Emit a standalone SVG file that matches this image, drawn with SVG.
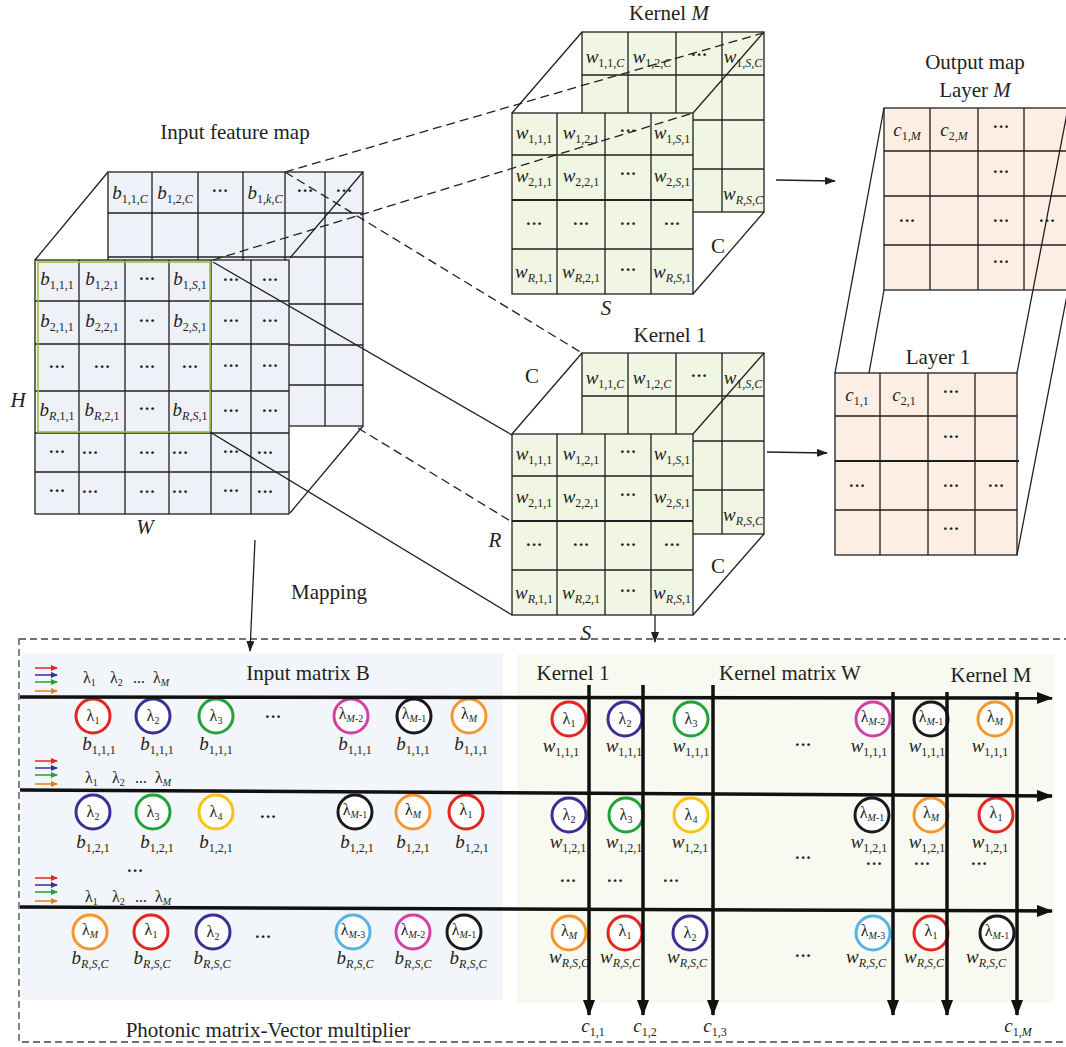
<svg xmlns="http://www.w3.org/2000/svg" width="1066" height="1047" viewBox="0 0 1066 1047">
<style>
.sf{font-family:"Liberation Serif","Times New Roman",serif;fill:#231f20}
.tl{font-size:21px}
.tm{text-anchor:middle}
.cv{font-size:19px;font-style:italic;text-anchor:middle}
.sb{font-size:12px;font-style:normal}
.dt{font-size:17px;text-anchor:middle;font-weight:bold}
.g{stroke:#231f20;stroke-width:1.3;fill:none}
.fb{fill:#eef2f8}
.fk{fill:#f1f5e3}
.fo{fill:#fdeee3}
.lam{font-size:16px;text-anchor:middle}
.ls{font-size:10px;font-style:normal}
.lb{font-size:16px}
.wg{stroke:#111;stroke-width:3.5;fill:none}
.cr{stroke-width:3;fill:#fff}
.red{stroke:#e3261f}.blu{stroke:#3b2f96}.grn{stroke:#20a339}.mag{stroke:#d43fa5}.blk{stroke:#1a1a1a}.org{stroke:#f7962f}.yel{stroke:#f9c20f}.lbl{stroke:#56b3e2}
.th{stroke:#231f20;stroke-width:1.3;fill:none}
.da{stroke-dasharray:9 5}
.it,.sb.it,.ls.it{font-style:italic}
</style>
<defs>
<marker id="ah" markerUnits="userSpaceOnUse" markerWidth="16" markerHeight="12" refX="15" refY="6" orient="auto"><path d="M0,0 L16,6 L0,12 Z" fill="#111"/></marker>
<marker id="as" markerUnits="userSpaceOnUse" markerWidth="11" markerHeight="8" refX="10" refY="4" orient="auto"><path d="M0,0 L11,4 L0,8 Z" fill="#231f20"/></marker>
<marker id="mr" markerUnits="userSpaceOnUse" markerWidth="7" markerHeight="6" refX="6" refY="3" orient="auto"><path d="M0,0 L7,3 L0,6 Z" fill="#e3261f"/></marker>
<marker id="mb" markerUnits="userSpaceOnUse" markerWidth="7" markerHeight="6" refX="6" refY="3" orient="auto"><path d="M0,0 L7,3 L0,6 Z" fill="#3b2f96"/></marker>
<marker id="mg" markerUnits="userSpaceOnUse" markerWidth="7" markerHeight="6" refX="6" refY="3" orient="auto"><path d="M0,0 L7,3 L0,6 Z" fill="#20a339"/></marker>
<marker id="mo" markerUnits="userSpaceOnUse" markerWidth="7" markerHeight="6" refX="6" refY="3" orient="auto"><path d="M0,0 L7,3 L0,6 Z" fill="#f07a1a"/></marker>
</defs>
<rect width="1066" height="1047" fill="#fff"/>

<g id="input-feature-map">
<text class="sf tl tm" x="235" y="139">Input feature map</text>
<rect class="g fb" x="108" y="172" width="255" height="254"/>
<path class="g" d="M152 172V426M198 172V426M243 172V426M285 172V426M325 172V426M108 213H363M108 257H363M108 304H363M108 345H363M108 385H363"/>
<text class="sf cv" x="130" y="199">b<tspan class="sb" dy="4">1,1,<tspan class="it">C</tspan></tspan></text>
<text class="sf cv" x="175" y="199">b<tspan class="sb" dy="4">1,2,<tspan class="it">C</tspan></tspan></text>
<text class="sf dt" x="220" y="196">···</text>
<text class="sf cv" x="265" y="199">b<tspan class="sb" dy="4">1,<tspan class="it">k</tspan>,<tspan class="it">C</tspan></tspan></text>
<text class="sf dt" x="305" y="196">···</text>
<text class="sf dt" x="344" y="196">···</text>
<rect class="g fb" x="35" y="260" width="254" height="254"/>
<path class="g" d="M79 260V514M125 260V514M169 260V514M211 260V514M251 260V514M35 301H289M35 344H289M35 391H289M35 433H289M35 472H289"/>
<rect x="38" y="262" width="172" height="170" fill="none" stroke="#9fbf3b" stroke-width="1.6"/>
<text class="sf cv" x="57" y="285">b<tspan class="sb" dy="4">1,1,1</tspan></text>
<text class="sf cv" x="102" y="285">b<tspan class="sb" dy="4">1,2,1</tspan></text>
<text class="sf dt" x="147" y="284">···</text>
<text class="sf cv" x="190" y="285">b<tspan class="sb" dy="4">1,<tspan class="it">S</tspan>,1</tspan></text>
<text class="sf dt" x="231" y="285">···</text>
<text class="sf dt" x="270" y="285">···</text>
<text class="sf cv" x="57" y="327">b<tspan class="sb" dy="4">2,1,1</tspan></text>
<text class="sf cv" x="102" y="327">b<tspan class="sb" dy="4">2,2,1</tspan></text>
<text class="sf dt" x="147" y="326">···</text>
<text class="sf cv" x="190" y="327">b<tspan class="sb" dy="4">2,<tspan class="it">S</tspan>,1</tspan></text>
<text class="sf dt" x="231" y="326">···</text>
<text class="sf dt" x="270" y="326">···</text>
<text class="sf dt" x="57" y="372">···</text>
<text class="sf dt" x="102" y="372">···</text>
<text class="sf dt" x="147" y="372">···</text>
<text class="sf dt" x="190" y="372">···</text>
<text class="sf dt" x="231" y="371">···</text>
<text class="sf dt" x="270" y="371">···</text>
<text class="sf cv" x="57" y="416">b<tspan class="sb" dy="4"><tspan class="it">R</tspan>,1,1</tspan></text>
<text class="sf cv" x="102" y="416">b<tspan class="sb" dy="4"><tspan class="it">R</tspan>,2,1</tspan></text>
<text class="sf dt" x="147" y="414">···</text>
<text class="sf cv" x="190" y="416">b<tspan class="sb" dy="4"><tspan class="it">R</tspan>,<tspan class="it">S</tspan>,1</tspan></text>
<text class="sf dt" x="231" y="416">···</text>
<text class="sf dt" x="270" y="416">···</text>
<text class="sf dt" x="57" y="457">···</text>
<text class="sf dt" x="90" y="458">···</text>
<text class="sf dt" x="147" y="458">···</text>
<text class="sf dt" x="180" y="458">···</text>
<text class="sf dt" x="231" y="457">···</text>
<text class="sf dt" x="265" y="458">···</text>
<text class="sf dt" x="57" y="496">···</text>
<text class="sf dt" x="90" y="497">···</text>
<text class="sf dt" x="147" y="497">···</text>
<text class="sf dt" x="180" y="497">···</text>
<text class="sf dt" x="231" y="496">···</text>
<text class="sf dt" x="265" y="497">···</text>
<path class="g" d="M35 260L108 172M290 258L363 172M290 513L363 426"/>
<text class="sf tl it tm" x="18" y="407">H</text>
<text class="sf tl it tm" x="145" y="534">W</text>
</g>

<g id="kernel-M">
<text class="sf tl tm" x="669" y="20">Kernel <tspan class="it">M</tspan></text>
<rect class="g fk" x="582" y="32" width="182" height="180"/>
<path class="g" d="M628 32V212M676 32V212M722 32V212M582 75H764M582 120H764M582 169H764"/>
<text class="sf cv" x="605" y="63">w<tspan class="sb" dy="4">1,1,<tspan class="it">C</tspan></tspan></text>
<text class="sf cv" x="652" y="63">w<tspan class="sb" dy="4">1,2,<tspan class="it">C</tspan></tspan></text>
<text class="sf dt" x="699" y="60">···</text>
<text class="sf cv" x="743" y="63">w<tspan class="sb" dy="4">1,<tspan class="it">S</tspan>,<tspan class="it">C</tspan></tspan></text>
<text class="sf cv" x="743" y="200">w<tspan class="sb" dy="4"><tspan class="it">R</tspan>,<tspan class="it">S</tspan>,<tspan class="it">C</tspan></tspan></text>
<rect class="g fk" x="512" y="113" width="181" height="181"/>
<path class="g" d="M557 113V294M605 113V294M651 113V294M512 155H693M512 249H693"/>
<path d="M512 200H693" stroke="#231f20" stroke-width="2"/>
<text class="sf cv" x="534" y="139">w<tspan class="sb" dy="4">1,1,1</tspan></text>
<text class="sf cv" x="581" y="139">w<tspan class="sb" dy="4">1,2,1</tspan></text>
<text class="sf dt" x="628" y="136">···</text>
<text class="sf cv" x="672" y="139">w<tspan class="sb" dy="4">1,<tspan class="it">S</tspan>,1</tspan></text>
<text class="sf cv" x="534" y="182">w<tspan class="sb" dy="4">2,1,1</tspan></text>
<text class="sf cv" x="581" y="182">w<tspan class="sb" dy="4">2,2,1</tspan></text>
<text class="sf dt" x="628" y="179">···</text>
<text class="sf cv" x="672" y="182">w<tspan class="sb" dy="4">2,<tspan class="it">S</tspan>,1</tspan></text>
<text class="sf dt" x="534" y="229">···</text>
<text class="sf dt" x="581" y="229">···</text>
<text class="sf dt" x="628" y="229">···</text>
<text class="sf dt" x="672" y="229">···</text>
<text class="sf cv" x="534" y="278">w<tspan class="sb" dy="4"><tspan class="it">R</tspan>,1,1</tspan></text>
<text class="sf cv" x="581" y="278">w<tspan class="sb" dy="4"><tspan class="it">R</tspan>,2,1</tspan></text>
<text class="sf dt" x="628" y="275">···</text>
<text class="sf cv" x="672" y="278">w<tspan class="sb" dy="4"><tspan class="it">R</tspan>,<tspan class="it">S</tspan>,1</tspan></text>
<path class="g" d="M512 113L582 32M693 113L764 32M693 294L764 212"/>
<text class="sf tl tm" x="718" y="253">C</text>
<text class="sf tl it tm" x="606" y="315">S</text>
</g>

<g id="kernel-1">
<text class="sf tl tm" x="670" y="342">Kernel 1</text>
<rect class="g fk" x="582" y="353" width="182" height="181"/>
<path class="g" d="M628 353V534M676 353V534M722 353V534M582 396H764M582 441H764M582 490H764"/>
<text class="sf cv" x="605" y="384">w<tspan class="sb" dy="4">1,1,<tspan class="it">C</tspan></tspan></text>
<text class="sf cv" x="652" y="384">w<tspan class="sb" dy="4">1,2,<tspan class="it">C</tspan></tspan></text>
<text class="sf dt" x="699" y="381">···</text>
<text class="sf cv" x="743" y="384">w<tspan class="sb" dy="4">1,<tspan class="it">S</tspan>,<tspan class="it">C</tspan></tspan></text>
<text class="sf cv" x="743" y="521">w<tspan class="sb" dy="4"><tspan class="it">R</tspan>,<tspan class="it">S</tspan>,<tspan class="it">C</tspan></tspan></text>
<rect class="g fk" x="512" y="434" width="181" height="181"/>
<path class="g" d="M557 434V615M605 434V615M651 434V615M512 476H693M512 570H693"/>
<path d="M512 521H693" stroke="#231f20" stroke-width="2"/>
<text class="sf cv" x="534" y="460">w<tspan class="sb" dy="4">1,1,1</tspan></text>
<text class="sf cv" x="581" y="460">w<tspan class="sb" dy="4">1,2,1</tspan></text>
<text class="sf dt" x="628" y="457">···</text>
<text class="sf cv" x="672" y="460">w<tspan class="sb" dy="4">1,<tspan class="it">S</tspan>,1</tspan></text>
<text class="sf cv" x="534" y="503">w<tspan class="sb" dy="4">2,1,1</tspan></text>
<text class="sf cv" x="581" y="503">w<tspan class="sb" dy="4">2,2,1</tspan></text>
<text class="sf dt" x="628" y="500">···</text>
<text class="sf cv" x="672" y="503">w<tspan class="sb" dy="4">2,<tspan class="it">S</tspan>,1</tspan></text>
<text class="sf dt" x="534" y="550">···</text>
<text class="sf dt" x="581" y="550">···</text>
<text class="sf dt" x="628" y="550">···</text>
<text class="sf dt" x="672" y="550">···</text>
<text class="sf cv" x="534" y="599">w<tspan class="sb" dy="4"><tspan class="it">R</tspan>,1,1</tspan></text>
<text class="sf cv" x="581" y="599">w<tspan class="sb" dy="4"><tspan class="it">R</tspan>,2,1</tspan></text>
<text class="sf dt" x="628" y="596">···</text>
<text class="sf cv" x="672" y="599">w<tspan class="sb" dy="4"><tspan class="it">R</tspan>,<tspan class="it">S</tspan>,1</tspan></text>
<path class="g" d="M512 434L582 353M693 434L764 353M693 615L764 534"/>
<text class="sf tl tm" x="532" y="383">C</text>
<text class="sf tl it tm" x="495" y="547">R</text>
<text class="sf tl tm" x="718" y="573">C</text>
<text class="sf tl it tm" x="586" y="640">S</text>
</g>

<g id="output-map">
<text class="sf tl tm" x="975" y="69">Output map</text>
<text class="sf tl tm" x="975" y="97">Layer <tspan class="it">M</tspan></text>
<rect class="g fo" x="884" y="108" width="186" height="182"/>
<path class="g" d="M930 108V290M978 108V290M1024 108V290M884 151H1070M884 196H1070M884 245H1070"/>
<text class="sf cv" x="907" y="136">c<tspan class="sb" dy="4">1,<tspan class="it">M</tspan></tspan></text>
<text class="sf cv" x="954" y="136">c<tspan class="sb" dy="4">2,<tspan class="it">M</tspan></tspan></text>
<text class="sf dt" x="1001" y="132">···</text>
<text class="sf dt" x="1001" y="177">···</text>
<text class="sf dt" x="907" y="226">···</text>
<text class="sf dt" x="1001" y="226">···</text>
<text class="sf dt" x="1047" y="226">···</text>
<text class="sf dt" x="1001" y="267">···</text>
<text class="sf tl tm" x="938" y="364">Layer 1</text>
<rect class="g fo" x="835" y="373" width="182" height="182"/>
<path class="g" d="M880 373V555M928 373V555M975 373V555M835 416H1017M835 510H1017"/>
<path d="M835 461H1019" stroke="#231f20" stroke-width="1.8"/>
<text class="sf cv" x="857" y="401">c<tspan class="sb" dy="4">1,1</tspan></text>
<text class="sf cv" x="904" y="401">c<tspan class="sb" dy="4">2,1</tspan></text>
<text class="sf dt" x="951" y="397">···</text>
<text class="sf dt" x="951" y="442">···</text>
<text class="sf dt" x="857" y="491">···</text>
<text class="sf dt" x="951" y="491">···</text>
<text class="sf dt" x="996" y="491">···</text>
<text class="sf dt" x="951" y="534">···</text>
<path class="g" d="M884 108L835 373M884 290L869 373M1068 108L1017 373M1068 290L1017 555"/>
</g>

<g id="photonic-multiplier">
<rect x="19" y="639" width="1052" height="403" fill="none" stroke="#444" stroke-width="1.3" stroke-dasharray="7 4"/>
<rect x="21" y="653" width="482" height="347" fill="#f2f5f9"/>
<rect x="517" y="654" width="537" height="349" fill="#f8f9f1"/>
<text class="sf tl tm" x="308" y="680">Input matrix B</text>
<text class="sf tl tm" x="573" y="680">Kernel 1</text>
<text class="sf tl tm" x="790" y="680">Kernel matrix W</text>
<text class="sf tl tm" x="991" y="682">Kernel M</text>
<text class="sf tl tm" x="268" y="1037">Photonic matrix-Vector multiplier</text>
</g>

<g id="input-matrix-B">
<g stroke-width="1.5">
<line x1="35" y1="668" x2="57" y2="668" stroke="#e3261f" marker-end="url(#mr)"/>
<line x1="35" y1="675" x2="57" y2="675" stroke="#3b2f96" marker-end="url(#mb)"/>
<line x1="35" y1="682" x2="57" y2="682" stroke="#20a339" marker-end="url(#mg)"/>
<line x1="35" y1="691" x2="57" y2="691" stroke="#f07a1a" marker-end="url(#mo)"/>
<line x1="35" y1="761" x2="57" y2="761" stroke="#e3261f" marker-end="url(#mr)"/>
<line x1="35" y1="768" x2="57" y2="768" stroke="#3b2f96" marker-end="url(#mb)"/>
<line x1="35" y1="775" x2="57" y2="775" stroke="#20a339" marker-end="url(#mg)"/>
<line x1="35" y1="784" x2="57" y2="784" stroke="#f07a1a" marker-end="url(#mo)"/>
<line x1="35" y1="878" x2="57" y2="878" stroke="#e3261f" marker-end="url(#mr)"/>
<line x1="35" y1="885" x2="57" y2="885" stroke="#3b2f96" marker-end="url(#mb)"/>
<line x1="35" y1="892" x2="57" y2="892" stroke="#20a339" marker-end="url(#mg)"/>
<line x1="35" y1="901" x2="57" y2="901" stroke="#f07a1a" marker-end="url(#mo)"/>
</g>
<text class="sf lb" x="83" y="683">λ<tspan class="ls" dy="3">1</tspan><tspan dy="-3" x="110">λ</tspan><tspan class="ls" dy="3">2</tspan><tspan dy="-3" x="133">...</tspan><tspan x="153">λ</tspan><tspan class="ls it" dy="3">M</tspan></text>
<text class="sf lb" x="85" y="783">λ<tspan class="ls" dy="3">1</tspan><tspan dy="-3" x="112">λ</tspan><tspan class="ls" dy="3">2</tspan><tspan dy="-3" x="135">...</tspan><tspan x="155">λ</tspan><tspan class="ls it" dy="3">M</tspan></text>
<text class="sf lb" x="85" y="902">λ<tspan class="ls" dy="3">1</tspan><tspan dy="-3" x="112">λ</tspan><tspan class="ls" dy="3">2</tspan><tspan dy="-3" x="135">...</tspan><tspan x="155">λ</tspan><tspan class="ls it" dy="3">M</tspan></text>
<text class="sf dt" x="135" y="876">···</text>

<circle class="cr red" cx="93" cy="716" r="17"/><text class="sf lam" x="93" y="721">λ<tspan class="ls" dy="3">1</tspan></text>
<circle class="cr blu" cx="153" cy="716" r="17"/><text class="sf lam" x="153" y="721">λ<tspan class="ls" dy="3">2</tspan></text>
<circle class="cr grn" cx="216" cy="716" r="17"/><text class="sf lam" x="216" y="721">λ<tspan class="ls" dy="3">3</tspan></text>
<text class="sf dt" x="273" y="722">···</text>
<circle class="cr mag" cx="351" cy="716" r="17"/><text class="sf lam" x="351" y="719">λ<tspan class="ls" dy="3"><tspan class="it">M</tspan>-2</tspan></text>
<circle class="cr blk" cx="414" cy="716" r="17"/><text class="sf lam" x="414" y="719">λ<tspan class="ls" dy="3"><tspan class="it">M</tspan>-1</tspan></text>
<circle class="cr org" cx="469" cy="716" r="17"/><text class="sf lam" x="469" y="719">λ<tspan class="ls it" dy="3">M</tspan></text>
<text class="sf cv" x="99" y="750">b<tspan class="sb" dy="4">1,1,1</tspan></text>
<text class="sf cv" x="157" y="750">b<tspan class="sb" dy="4">1,1,1</tspan></text>
<text class="sf cv" x="216" y="750">b<tspan class="sb" dy="4">1,1,1</tspan></text>
<text class="sf cv" x="355" y="750">b<tspan class="sb" dy="4">1,1,1</tspan></text>
<text class="sf cv" x="413" y="750">b<tspan class="sb" dy="4">1,1,1</tspan></text>
<text class="sf cv" x="471" y="750">b<tspan class="sb" dy="4">1,1,1</tspan></text>

<circle class="cr blu" cx="93" cy="812" r="17"/><text class="sf lam" x="93" y="817">λ<tspan class="ls" dy="3">2</tspan></text>
<circle class="cr grn" cx="153" cy="812" r="17"/><text class="sf lam" x="153" y="817">λ<tspan class="ls" dy="3">3</tspan></text>
<circle class="cr yel" cx="216" cy="812" r="17"/><text class="sf lam" x="216" y="817">λ<tspan class="ls" dy="3">4</tspan></text>
<text class="sf dt" x="268" y="822">···</text>
<circle class="cr blk" cx="355" cy="812" r="17"/><text class="sf lam" x="355" y="815">λ<tspan class="ls" dy="3"><tspan class="it">M</tspan>-1</tspan></text>
<circle class="cr org" cx="413" cy="812" r="17"/><text class="sf lam" x="413" y="815">λ<tspan class="ls it" dy="3">M</tspan></text>
<circle class="cr red" cx="466" cy="812" r="17"/><text class="sf lam" x="466" y="815">λ<tspan class="ls" dy="3">1</tspan></text>
<text class="sf cv" x="93" y="848">b<tspan class="sb" dy="4">1,2,1</tspan></text>
<text class="sf cv" x="157" y="848">b<tspan class="sb" dy="4">1,2,1</tspan></text>
<text class="sf cv" x="216" y="848">b<tspan class="sb" dy="4">1,2,1</tspan></text>
<text class="sf cv" x="357" y="848">b<tspan class="sb" dy="4">1,2,1</tspan></text>
<text class="sf cv" x="413" y="848">b<tspan class="sb" dy="4">1,2,1</tspan></text>
<text class="sf cv" x="472" y="848">b<tspan class="sb" dy="4">1,2,1</tspan></text>

<circle class="cr org" cx="90" cy="932" r="17"/><text class="sf lam" x="90" y="935">λ<tspan class="ls it" dy="3">M</tspan></text>
<circle class="cr red" cx="151" cy="932" r="17"/><text class="sf lam" x="151" y="935">λ<tspan class="ls" dy="3">1</tspan></text>
<circle class="cr blu" cx="213" cy="932" r="17"/><text class="sf lam" x="213" y="937">λ<tspan class="ls" dy="3">2</tspan></text>
<text class="sf dt" x="263" y="942">···</text>
<circle class="cr lbl" cx="353" cy="932" r="17"/><text class="sf lam" x="353" y="935">λ<tspan class="ls" dy="3"><tspan class="it">M</tspan>-3</tspan></text>
<circle class="cr mag" cx="413" cy="932" r="17"/><text class="sf lam" x="413" y="935">λ<tspan class="ls" dy="3"><tspan class="it">M</tspan>-2</tspan></text>
<circle class="cr blk" cx="464" cy="932" r="17"/><text class="sf lam" x="464" y="935">λ<tspan class="ls" dy="3"><tspan class="it">M</tspan>-1</tspan></text>
<text class="sf cv" x="90" y="964">b<tspan class="sb it" dy="4">R,S,C</tspan></text>
<text class="sf cv" x="152" y="964">b<tspan class="sb it" dy="4">R,S,C</tspan></text>
<text class="sf cv" x="212" y="964">b<tspan class="sb it" dy="4">R,S,C</tspan></text>
<text class="sf cv" x="355" y="964">b<tspan class="sb it" dy="4">R,S,C</tspan></text>
<text class="sf cv" x="413" y="964">b<tspan class="sb it" dy="4">R,S,C</tspan></text>
<text class="sf cv" x="468" y="964">b<tspan class="sb it" dy="4">R,S,C</tspan></text>
</g>

<g id="kernel-matrix-W">
<circle class="cr red" cx="569" cy="719" r="17"/><text class="sf lam" x="569" y="724">λ<tspan class="ls" dy="3">1</tspan></text>
<circle class="cr blu" cx="625" cy="719" r="17"/><text class="sf lam" x="625" y="724">λ<tspan class="ls" dy="3">2</tspan></text>
<circle class="cr grn" cx="691" cy="719" r="17"/><text class="sf lam" x="691" y="724">λ<tspan class="ls" dy="3">3</tspan></text>
<circle class="cr mag" cx="873" cy="719" r="17"/><text class="sf lam" x="873" y="722">λ<tspan class="ls" dy="3"><tspan class="it">M</tspan>-2</tspan></text>
<circle class="cr blk" cx="931" cy="719" r="17"/><text class="sf lam" x="931" y="722">λ<tspan class="ls" dy="3"><tspan class="it">M</tspan>-1</tspan></text>
<circle class="cr org" cx="995" cy="719" r="17"/><text class="sf lam" x="995" y="722">λ<tspan class="ls it" dy="3">M</tspan></text>
<text class="sf cv" x="561" y="752">w<tspan class="sb" dy="4">1,1,1</tspan></text>
<text class="sf cv" x="624" y="752">w<tspan class="sb" dy="4">1,1,1</tspan></text>
<text class="sf cv" x="691" y="752">w<tspan class="sb" dy="4">1,1,1</tspan></text>
<text class="sf dt" x="803" y="750">···</text>
<text class="sf cv" x="869" y="752">w<tspan class="sb" dy="4">1,1,1</tspan></text>
<text class="sf cv" x="927" y="752">w<tspan class="sb" dy="4">1,1,1</tspan></text>
<text class="sf cv" x="990" y="752">w<tspan class="sb" dy="4">1,1,1</tspan></text>

<circle class="cr blu" cx="569" cy="815" r="17"/><text class="sf lam" x="569" y="820">λ<tspan class="ls" dy="3">2</tspan></text>
<circle class="cr grn" cx="626" cy="815" r="17"/><text class="sf lam" x="626" y="820">λ<tspan class="ls" dy="3">3</tspan></text>
<circle class="cr yel" cx="691" cy="815" r="17"/><text class="sf lam" x="691" y="820">λ<tspan class="ls" dy="3">4</tspan></text>
<circle class="cr blk" cx="872" cy="815" r="17"/><text class="sf lam" x="872" y="818">λ<tspan class="ls" dy="3"><tspan class="it">M</tspan>-1</tspan></text>
<circle class="cr org" cx="931" cy="815" r="17"/><text class="sf lam" x="931" y="818">λ<tspan class="ls it" dy="3">M</tspan></text>
<circle class="cr red" cx="996" cy="815" r="17"/><text class="sf lam" x="996" y="818">λ<tspan class="ls" dy="3">1</tspan></text>
<text class="sf cv" x="568" y="848">w<tspan class="sb" dy="4">1,2,1</tspan></text>
<text class="sf cv" x="624" y="848">w<tspan class="sb" dy="4">1,2,1</tspan></text>
<text class="sf cv" x="690" y="848">w<tspan class="sb" dy="4">1,2,1</tspan></text>
<text class="sf dt" x="803" y="863">···</text>
<text class="sf cv" x="869" y="848">w<tspan class="sb" dy="4">1,2,1</tspan></text>
<text class="sf cv" x="927" y="848">w<tspan class="sb" dy="4">1,2,1</tspan></text>
<text class="sf cv" x="990" y="848">w<tspan class="sb" dy="4">1,2,1</tspan></text>
<text class="sf dt" x="874" y="869">···</text>
<text class="sf dt" x="922" y="869">···</text>
<text class="sf dt" x="979" y="869">···</text>
<text class="sf dt" x="568" y="886">···</text>
<text class="sf dt" x="615" y="886">···</text>
<text class="sf dt" x="671" y="886">···</text>

<circle class="cr org" cx="569" cy="933" r="17"/><text class="sf lam" x="569" y="936">λ<tspan class="ls it" dy="3">M</tspan></text>
<circle class="cr red" cx="625" cy="933" r="17"/><text class="sf lam" x="625" y="936">λ<tspan class="ls" dy="3">1</tspan></text>
<circle class="cr blu" cx="690" cy="933" r="17"/><text class="sf lam" x="690" y="938">λ<tspan class="ls" dy="3">2</tspan></text>
<circle class="cr lbl" cx="873" cy="933" r="17"/><text class="sf lam" x="873" y="936">λ<tspan class="ls" dy="3"><tspan class="it">M</tspan>-3</tspan></text>
<circle class="cr red" cx="931" cy="933" r="17"/><text class="sf lam" x="931" y="936">λ<tspan class="ls" dy="3">1</tspan></text>
<circle class="cr blk" cx="997" cy="933" r="17"/><text class="sf lam" x="997" y="936">λ<tspan class="ls" dy="3"><tspan class="it">M</tspan>-1</tspan></text>
<text class="sf cv" x="569" y="963">w<tspan class="sb it" dy="4">R,S,C</tspan></text>
<text class="sf cv" x="620" y="963">w<tspan class="sb it" dy="4">R,S,C</tspan></text>
<text class="sf cv" x="687" y="963">w<tspan class="sb it" dy="4">R,S,C</tspan></text>
<text class="sf dt" x="803" y="961">···</text>
<text class="sf cv" x="866" y="963">w<tspan class="sb it" dy="4">R,S,C</tspan></text>
<text class="sf cv" x="924" y="963">w<tspan class="sb it" dy="4">R,S,C</tspan></text>
<text class="sf cv" x="986" y="963">w<tspan class="sb it" dy="4">R,S,C</tspan></text>

<text class="sf cv" x="593" y="1032">c<tspan class="sb" dy="4">1,1</tspan></text>
<text class="sf cv" x="645" y="1032">c<tspan class="sb" dy="4">1,2</tspan></text>
<text class="sf cv" x="715" y="1032">c<tspan class="sb" dy="4">1,3</tspan></text>
<text class="sf cv" x="1018" y="1032">c<tspan class="sb" dy="4">1,<tspan class="it">M</tspan></tspan></text>
</g>

<g id="connectors">
<path class="th da" d="M285 172L763 33M213 260L693 113M285 172L582 353M358 428L512 522"/>
<path class="th" d="M213 262L512 435M210 432L512 615"/>
<line class="th" x1="776" y1="180" x2="835" y2="181" marker-end="url(#as)"/>
<line class="th" x1="767" y1="452" x2="827" y2="453" marker-end="url(#as)"/>
<line class="th" x1="255" y1="540" x2="250" y2="651" marker-end="url(#as)"/>
<line class="th" x1="655" y1="615" x2="655" y2="642" marker-end="url(#as)"/>
<text class="sf tl tm" x="329" y="599">Mapping</text>
<line class="wg" x1="20" y1="697" x2="1052" y2="698" marker-end="url(#ah)"/>
<line class="wg" x1="20" y1="790" x2="1052" y2="796" marker-end="url(#ah)"/>
<line class="wg" x1="20" y1="907" x2="1052" y2="911" marker-end="url(#ah)"/>
<line class="wg" x1="589" y1="685" x2="589" y2="1015" marker-end="url(#ah)"/>
<line class="wg" x1="643" y1="685" x2="643" y2="1015" marker-end="url(#ah)"/>
<line class="wg" x1="713" y1="685" x2="713" y2="1015" marker-end="url(#ah)"/>
<line class="wg" x1="893" y1="692" x2="893" y2="1015" marker-end="url(#ah)"/>
<line class="wg" x1="947" y1="692" x2="947" y2="1015" marker-end="url(#ah)"/>
<line class="wg" x1="1017" y1="692" x2="1017" y2="1015" marker-end="url(#ah)"/>
</g>
</svg>
